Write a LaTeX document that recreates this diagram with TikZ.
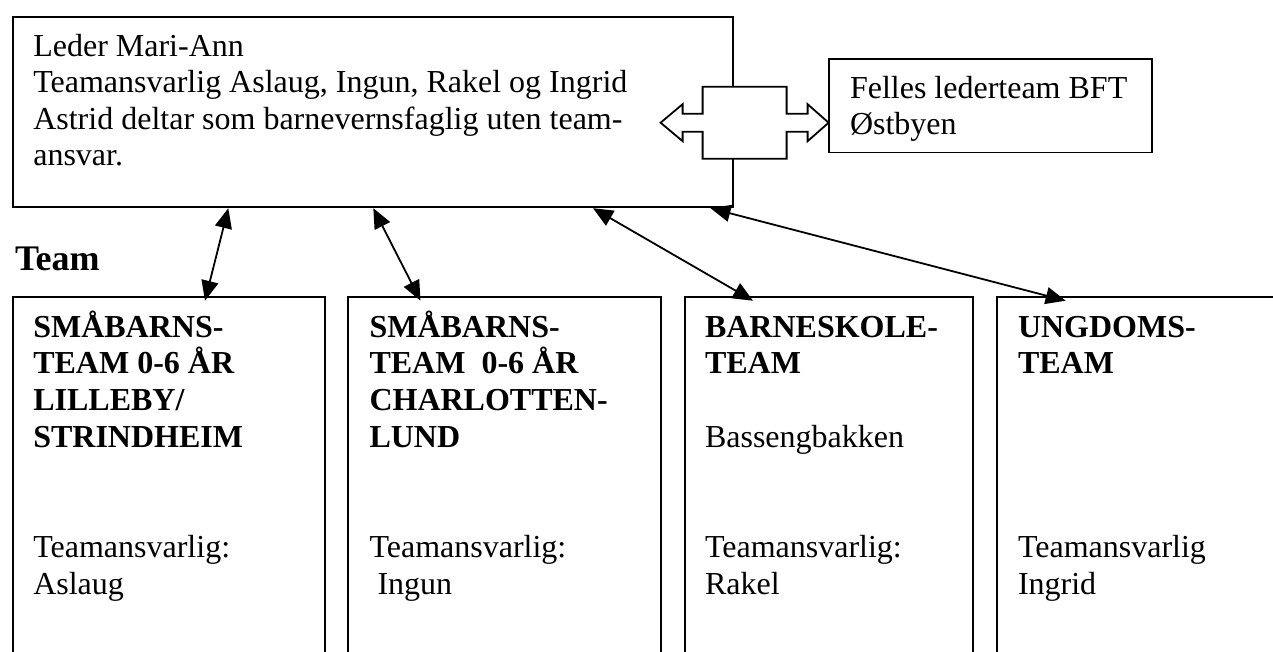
\documentclass[tikz,border=0pt]{standalone}
\usepackage{fontspec}
\setmainfont{Liberation Serif}
\usetikzlibrary{arrows.meta}
\tikzset{
  box/.style={draw, line width=1.8pt, rectangle, inner sep=0pt, outer sep=0pt, anchor=north west},
  txt/.style={inner sep=0pt, outer sep=0pt, anchor=base west, font=\fontsize{32}{36.8}\selectfont},
  btxt/.style={txt, font=\fontsize{32}{36.8}\selectfont\bfseries},
  conn/.style={line width=1.8pt, {Triangle[length=20pt,width=17pt]}-{Triangle[length=20pt,width=17pt]}},
  dblarrow/.style={draw, line width=1.8pt, fill=white, line join=miter}
}
\begin{document}
\begin{tikzpicture}[x=1pt,y=-1pt]
\useasboundingbox (0,0) rectangle (1273,652);
\clip (0,0) rectangle (1273,652);
\fill[white] (0,0) rectangle (1273,652);

% boxes
\node[box, minimum width=720pt, minimum height=190pt] (top) at (12.7,16.7) {};
\node[box, minimum width=323pt, minimum height=93.2pt] (felles) at (829,59.3) {};
\node[box, minimum width=312.3pt, minimum height=420pt] (b1) at (12.7,296.7) {};
\node[box, minimum width=312.7pt, minimum height=420pt] (b2) at (348.3,296.7) {};
\node[box, minimum width=288.3pt, minimum height=420pt] (b3) at (685,296.7) {};
\node[box, minimum width=320pt, minimum height=420pt] (b4) at (996.7,296.7) {};

% double arrow between top box and Felles box
\coordinate (dac) at (744.6,122.7);
\draw[dblarrow, shift={(dac)}] (-84,0) -- (-62,-18.5) -- (-62,-9) -- (-42,-9) -- (-42,-36) -- (42,-36) -- (42,-9) -- (63,-9) -- (63,-18.5) -- (84,0) -- (63,18.5) -- (63,9) -- (42,9) -- (42,36) -- (-42,36) -- (-42,9) -- (-62,9) -- (-62,18.5) -- cycle;

% top box text
\node[txt] (t1) at (33.3,56.7) {Leder Mari-Ann};
\node[txt] (t2) at (33.3,92.9) {Teamansvarlig Aslaug, Ingun, Rakel og Ingrid};
\node[txt] (t3) at (33.3,129.1) {Astrid deltar som barnevernsfaglig uten team-};
\node[txt] (t4) at (33.3,165.3) {ansvar.};

% Felles box text
\node[txt] (f1) at (850,98.5) {Felles lederteam BFT};
\node[txt] (f2) at (850,135) {Østbyen};

% Team label
\node[txt, font=\fontsize{36}{40}\selectfont\bfseries] (team) at (15,270) {Team};

% box 1
\node[btxt] (a1) at (33.3,337) {SMÅBARNS-};
\node[btxt] (a2) at (33.3,373.8) {TEAM 0-6 ÅR};
\node[btxt] (a3) at (33.3,410.6) {LILLEBY/};
\node[btxt] (a4) at (33.3,447.4) {STRINDHEIM};
\node[txt] (a5) at (33.3,557.8) {Teamansvarlig:};
\node[txt] (a6) at (33.3,594.6) {Aslaug};

% box 2
\node[btxt] (c1) at (369.5,337) {SMÅBARNS-};
\node[btxt] (c2) at (369.5,373.8) {TEAM\ \ 0-6 ÅR};
\node[btxt] (c3) at (369.5,410.6) {CHARLOTTEN-};
\node[btxt] (c4) at (369.5,447.4) {LUND};
\node[txt] (c5) at (369.5,557.8) {Teamansvarlig:};
\node[txt] (c6) at (377.5,594.6) {Ingun};

% box 3
\node[btxt] (d1) at (705,337) {BARNESKOLE-};
\node[btxt] (d2) at (705,373.8) {TEAM};
\node[txt] (d3) at (705,447.4) {Bassengbakken};
\node[txt] (d5) at (705,557.8) {Teamansvarlig:};
\node[txt] (d6) at (705,594.6) {Rakel};

% box 4
\node[btxt] (e1) at (1018,337) {UNGDOMS-};
\node[btxt] (e2) at (1018,373.8) {TEAM};
\node[txt] (e5) at (1018,557.8) {Teamansvarlig};
\node[txt] (e6) at (1018,594.6) {Ingrid};

% connectors
\draw[conn] ([xshift=215.6pt,yshift=-1.5pt]top.south west) -- ([xshift=192.3pt,yshift=-4pt]b1.north west);
\draw[conn] ([xshift=360.6pt,yshift=-1.5pt]top.south west) -- ([xshift=72.2pt,yshift=-4pt]b2.north west);
\draw[conn] ([xshift=580.3pt,yshift=-1.5pt]top.south west) -- ([xshift=68pt,yshift=-4pt]b3.north west);
\draw[conn] ([xshift=697.8pt,yshift=-1.5pt]top.south west) -- ([xshift=69pt,yshift=-4pt]b4.north west);
\end{tikzpicture}
\end{document}
